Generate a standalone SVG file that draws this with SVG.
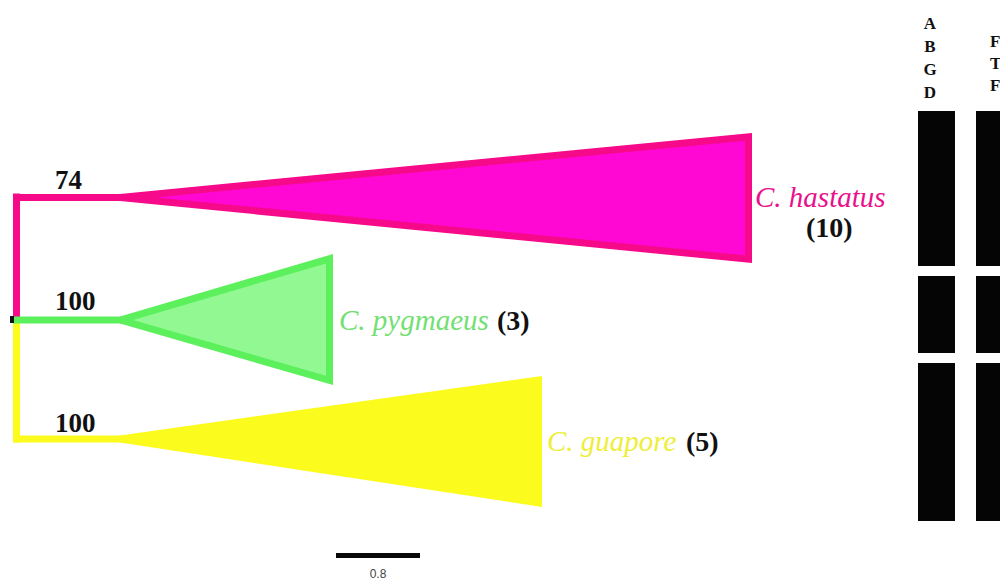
<svg xmlns="http://www.w3.org/2000/svg" width="1000" height="581" viewBox="0 0 1000 581">
<style>
.sup{font-family:"Liberation Serif",serif;font-weight:bold;font-size:27px;fill:#111}
.sp{font-family:"Liberation Serif",serif;font-style:italic;font-size:29px}
.cnt{font-family:"Liberation Serif",serif;font-weight:bold;font-size:28px;fill:#111}
.lt{font-family:"Liberation Serif",serif;font-weight:bold;font-size:17px;fill:#111}
.bar{fill:#050505}
</style>
<rect width="1000" height="581" fill="#ffffff"/>
<g id="connectors" fill="none" stroke-width="7">
  <path d="M16.5 193.5 V320" stroke="#f70a8a"/>
  <path d="M13 197.5 H122" stroke="#f70a8a"/>
  <path d="M16.5 320 V442.5" stroke="#fbfb1e"/>
  <path d="M13 439 H122" stroke="#fbfb1e"/>
  <path d="M13 320 H122" stroke="#5cf05c"/>
  <rect x="10" y="316" width="4" height="7" fill="#111" stroke="none"/>
</g>
<g id="clade-hastatus">
  <polygon points="120,194 752,133 752,263 120,201" fill="#f70a8a"/>
  <polygon points="156,197.5 745,140.7 745,255.3" fill="#ff08d4"/>
  <text class="sup" x="55" y="189">74</text>
  <text class="sp" x="755" y="207" fill="#e8108c">C. hastatus</text>
  <text class="cnt" x="806" y="237">(10)</text>
</g>
<g id="clade-pygmaeus">
  <polygon points="120,316.5 333,254 333,385 120,323.5" fill="#5cf05c"/>
  <polygon points="133,320 326,263.4 326,375.7" fill="#92f992"/>
  <text class="sup" x="55" y="310">100</text>
  <text class="sp" x="339" y="330" fill="#72e072">C. pygmaeus</text>
  <text class="cnt" x="497" y="330">(3)</text>
</g>
<g id="clade-guapore">
  <polygon points="120,435.5 542,376 542,507 120,442.5" fill="#fbfb1e"/>
  <text class="sup" x="55" y="432">100</text>
  <text class="sp" x="547" y="451" fill="#eeee3a">C. guapore</text>
  <text class="cnt" x="686" y="451">(5)</text>
</g>
<g id="scale">
  <rect x="336" y="553" width="84" height="5" fill="#080808"/>
  <text x="378" y="578" text-anchor="middle" font-family="'Liberation Sans Narrow','Liberation Sans',sans-serif" font-size="12" fill="#444">0.8</text>
</g>
<g id="column-abgd">
  <text class="lt" x="930" y="29" text-anchor="middle">A</text>
  <text class="lt" x="930" y="52" text-anchor="middle">B</text>
  <text class="lt" x="930" y="75" text-anchor="middle">G</text>
  <text class="lt" x="930" y="98" text-anchor="middle">D</text>
  <rect class="bar" x="918" y="111" width="37" height="155"/>
  <rect class="bar" x="918" y="276" width="37" height="77"/>
  <rect class="bar" x="918" y="363" width="37" height="158"/>
</g>
<g id="column-2">
  <text class="lt" x="990" y="47">F</text>
  <text class="lt" x="990" y="69">T</text>
  <text class="lt" x="990" y="91">F</text>
  <rect class="bar" x="976" y="111" width="30" height="155"/>
  <rect class="bar" x="976" y="276" width="30" height="77"/>
  <rect class="bar" x="976" y="363" width="30" height="158"/>
</g>
</svg>
